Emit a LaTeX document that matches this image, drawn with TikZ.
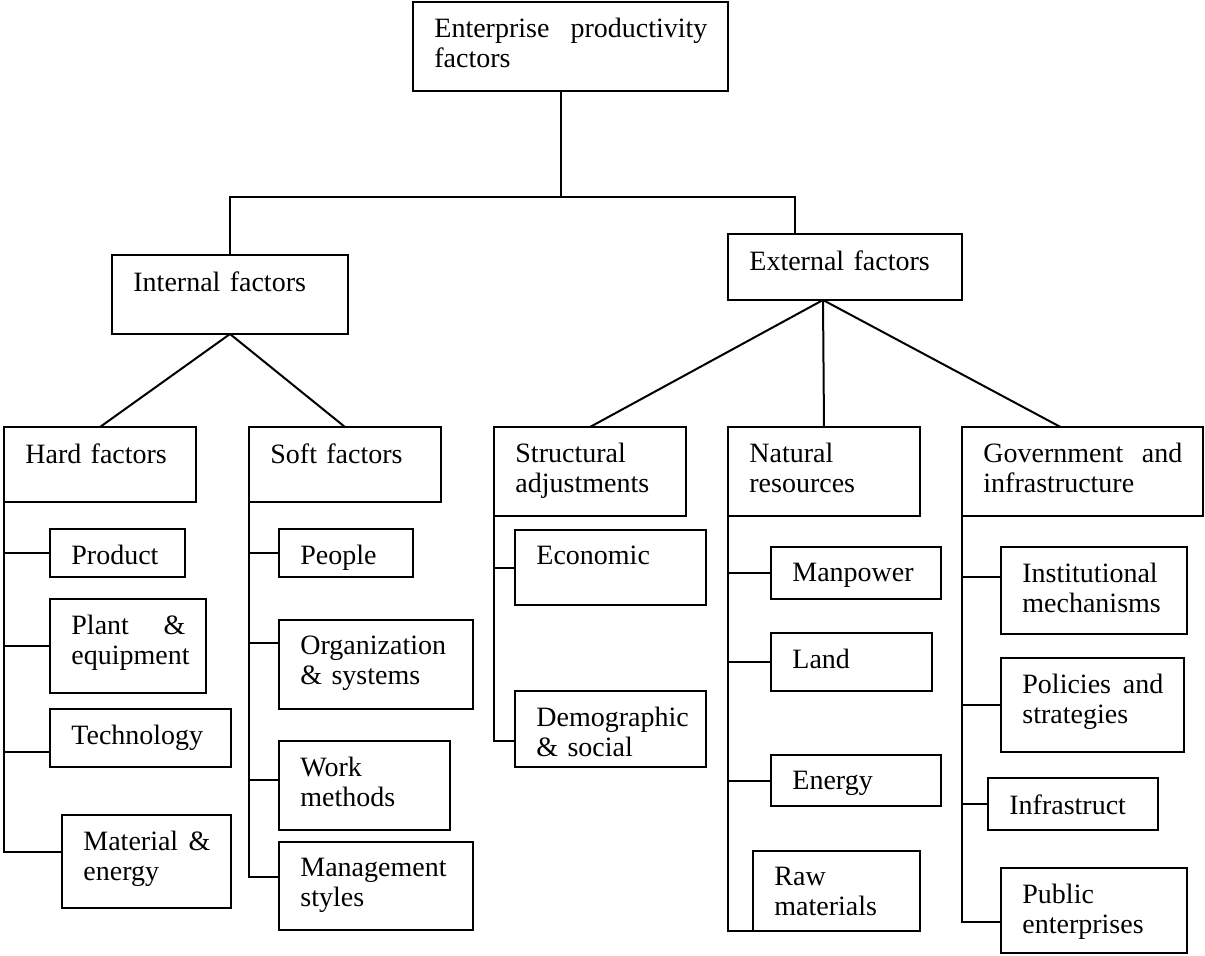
\documentclass[tikz,border=0pt]{standalone}
\usepackage{fontspec}
\setmainfont{Liberation Serif}
\hyphenpenalty=10000

\begin{document}
\begin{tikzpicture}[
		x=0.5pt, y=-0.5pt,
		% Factor box: {width}{height}{text}, text set in the upper left corner
		factorbox/.style n args={3}{
				rectangle, draw=black, line width=1pt, anchor=north west,
				inner sep=0pt, outer sep=0pt,
				minimum width=#1, minimum height=#2,
				label={[boxtext, text width=#1-21pt]north west:#3}
			},
		% Text inside the boxes
		boxtext/.style={
				anchor=north west, align=left, inner xsep=10.5pt, inner ysep=8pt,
				font=\fontsize{14pt}{15pt}\selectfont
			},
		% Connecting lines
		link/.style={draw=black, line width=1pt}
	]
	\useasboundingbox (0,0) rectangle (1205,955);

	% ==========================================
	% 1. TOP AND FIRST LEVEL
	% ==========================================

	\node[factorbox={157.5pt}{44.5pt}{Enterprise\hfill productivity\\factors}] (ent) at (413,1.5) {};

	\node[factorbox={118pt}{39.5pt}{Internal factors}] (intl) at (112,255) {};
	\node[factorbox={117pt}{33pt}{External factors}] (extl) at (728,234) {};


	% ==========================================
	% 2. SECOND LEVEL
	% ==========================================

	\node[factorbox={96pt}{37.5pt}{Hard factors}] (hard) at (4,427) {};
	\node[factorbox={96pt}{37.5pt}{Soft factors}] (soft) at (249,427) {};
	\node[factorbox={96pt}{44.5pt}{Structural\\adjustments}] (struct) at (494,427) {};
	\node[factorbox={96pt}{44.5pt}{Natural\\resources}] (natural) at (728,427) {};
	\node[factorbox={120.5pt}{44.5pt}{Government\hfill and\\infrastructure}] (govt) at (962,427) {};


	% ==========================================
	% 3. THIRD LEVEL
	% ==========================================

	% Hard factors
	\node[factorbox={67.5pt}{24pt}{Product}] (product) at (50,529) {};
	\node[factorbox={78pt}{47pt}{Plant\hfill\&\\equipment}] (plant) at (50,599) {};
	\node[factorbox={90.5pt}{29pt}{Technology}] (techn) at (50,709) {};
	\node[factorbox={84.5pt}{46.5pt}{Material\hfill\&\\energy}] (material) at (62,815) {};

	% Soft factors
	\node[factorbox={67pt}{24pt}{People}] (people) at (279,529) {};
	\node[factorbox={97pt}{44.5pt}{Organization\\\& systems}] (organiz) at (279,620) {};
	\node[factorbox={85.5pt}{44.5pt}{Work\\methods}] (work) at (279,741) {};
	\node[factorbox={97pt}{44pt}{Management\\styles}] (mgmt) at (279,842) {};

	% Structural adjustments
	\node[factorbox={95.5pt}{37.5pt}{Economic}] (economic) at (515,530) {};
	\node[factorbox={95.5pt}{38pt}{Demographic\\\& social}] (demog) at (515,691) {};

	% Natural resources
	\node[factorbox={85pt}{26pt}{Manpower}] (manpower) at (771,547) {};
	\node[factorbox={80.5pt}{29pt}{Land}] (land) at (771,633) {};
	\node[factorbox={85pt}{25.5pt}{Energy}] (energy) at (771,755) {};
	\node[factorbox={83.5pt}{40pt}{Raw\\materials}] (raw) at (753,851) {};

	% Government and infrastructure
	\node[factorbox={93pt}{43.5pt}{Institutional\\mechanisms}] (instit) at (1001,547) {};
	\node[factorbox={91.5pt}{47pt}{Policies\hfill and\\strategies}] (policies) at (1001,658) {};
	\node[factorbox={85pt}{26pt}{Infrastruct}] (infra) at (988,778) {};
	\node[factorbox={93pt}{42.5pt}{Public\\enterprises}] (public) at (1001,868) {};


	% ==========================================
	% 4. CONNECTING LINES
	% ==========================================

	% Top bus
	\draw[link] ([xshift=-5pt]ent.south) -- ++(0,-53pt) coordinate (bus);
	\draw[link] (intl.north) |- (bus) -| ([xshift=-25pt]extl.north);

	% Fan out to second level
	\draw[link] (intl.south) -- (hard.north);
	\draw[link] (intl.south) -- (soft.north);
	\draw[link] ([xshift=-11pt]extl.south) -- (struct.north);
	\draw[link] ([xshift=-11pt]extl.south) -- (natural.north);
	\draw[link] ([xshift=-11pt]extl.south) -- ([xshift=-11pt]govt.north);

	% Hard factors
	\draw[link] (product.west) -| (hard.south west);
	\draw[link] (plant.west) -| (hard.south west);
	\draw[link] ([yshift=-7pt]techn.west) -| (hard.south west);
	\draw[link] ([yshift=5pt]material.west) -| (hard.south west);

	% Soft factors
	\draw[link] (people.west) -| (soft.south west);
	\draw[link] ([yshift=11pt]organiz.west) -| (soft.south west);
	\draw[link] ([yshift=3pt]work.west) -| (soft.south west);
	\draw[link] ([yshift=4.5pt]mgmt.west) -| (soft.south west);

	% Structural adjustments
	\draw[link] (economic.west) -| (struct.south west);
	\draw[link] ([yshift=-6pt]demog.west) -| (struct.south west);

	% Natural resources
	\draw[link] (manpower.west) -| (natural.south west);
	\draw[link] (land.west) -| (natural.south west);
	\draw[link] (energy.west) -| (natural.south west);
	\draw[link] (raw.south west) -| (natural.south west);

	% Government and infrastructure
	\draw[link] ([yshift=7pt]instit.west) -| (govt.south west);
	\draw[link] (policies.west) -| (govt.south west);
	\draw[link] (infra.west) -| (govt.south west);
	\draw[link] ([yshift=-5.5pt]public.west) -| (govt.south west);

\end{tikzpicture}
\end{document}
